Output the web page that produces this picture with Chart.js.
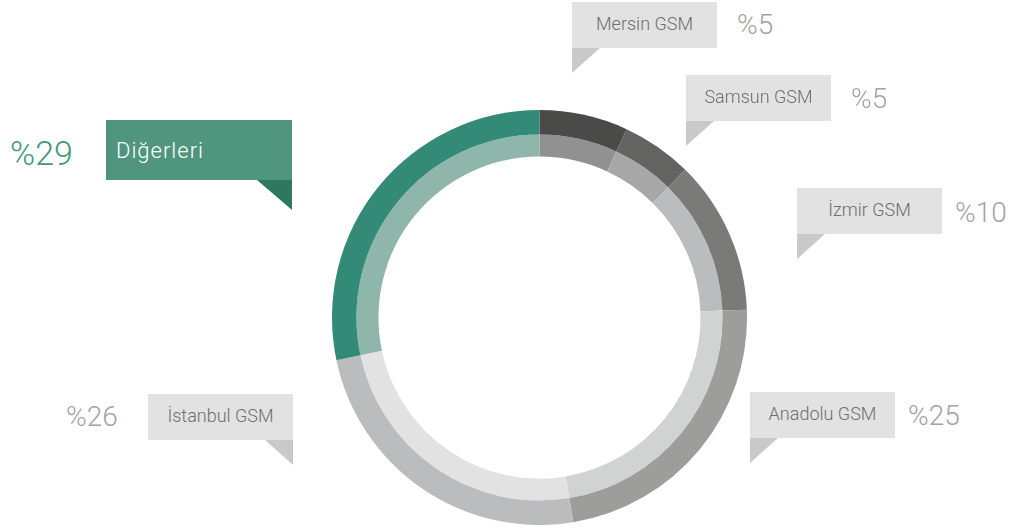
<!DOCTYPE html>
<html>
<head>
<meta charset="utf-8">
<script src="https://cdn.jsdelivr.net/npm/chart.js@4"></script>
<style>
  html, body { margin: 0; padding: 0; background: #fff; }
  body { width: 1013px; height: 531px; position: relative; overflow: hidden; font-family: Roboto, "Noto Sans", sans-serif; }
  #wrap { position: absolute; left: 332px; top: 110px; width: 415px; height: 415px; }
  .box { position: absolute; width: 145px; height: 46px; background: #e2e2e2; color: #6e6e6e;
         font-size: 18px; font-weight: 300; display: flex; align-items: center; justify-content: center; padding-bottom: 3px; box-sizing: border-box; }
  .tail { position: absolute; width: 0; height: 0; }
  .pct { position: absolute; height: 40px; display: flex; align-items: center; font-size: 28px; font-weight: 300; color: #a3a3a3; }
  .green { background: #50967f; color: #fff; font-size: 22px; letter-spacing: 1px; justify-content: flex-start; padding-left: 10px; padding-bottom: 0; }
</style>
</head>
<body>
<div id="wrap"><canvas id="myChart" width="415" height="415"></canvas></div>
<script>
// Chart data
const labels = ['Mersin GSM', 'Samsun GSM', 'İzmir GSM', 'Anadolu GSM', 'İstanbul GSM', 'Diğerleri'];
const shares = [5, 5, 10, 25, 26, 29];                      // printed percentages
const arcValues = [6.9, 5.5, 12.0, 23.0, 24.3, 28.3];        // arc sizes as drawn
const outerColors = ['#4a4a48', '#636362', '#7a7a79', '#9d9e9c', '#bbbcbd', '#338b77'];
const innerColors = ['#909190', '#a7a7a7', '#bbbcbd', '#d1d3d2', '#e2e2e2', '#8fb6aa'];

// callout layout (box left/top, percent position, tail side)
const callouts = [
    {x: 572, y: 2,   px: 737, py: 24,  side: 'left'},
    {x: 686, y: 75,  px: 851, py: 98,  side: 'left'},
    {x: 797, y: 188, px: 955, py: 212, side: 'left'},
    {x: 750, y: 392, px: 908, py: 415, side: 'left'},
    {x: 148, y: 394, px: 66,  py: 416, side: 'right'},
    {x: 106, y: 120, px: 10,  py: 153, side: 'right', big: true}
];

callouts.forEach(function(c, i) {
    const box = document.createElement('div');
    box.className = 'box' + (c.big ? ' green' : '');
    box.textContent = labels[i];
    box.style.left = c.x + 'px';
    box.style.top = c.y + 'px';
    if (c.big) {
        box.style.width = '186px';
        box.style.height = '60px';
    }
    document.body.appendChild(box);

    const w = c.big ? 186 : 145;
    const h = c.big ? 60 : 46;
    const tail = document.createElement('div');
    tail.className = 'tail';
    const tw = c.big ? 35 : 28;
    const th = c.big ? 30 : 25;
    const tc = c.big ? '#2e7862' : '#c8c9c8';
    tail.style.top = (c.y + h) + 'px';
    if (c.side === 'left') {
        tail.style.left = c.x + 'px';
        tail.style.borderTop = th + 'px solid ' + tc;
        tail.style.borderRight = tw + 'px solid transparent';
    } else {
        tail.style.left = (c.x + w - tw) + 'px';
        tail.style.borderTop = th + 'px solid ' + tc;
        tail.style.borderLeft = tw + 'px solid transparent';
    }
    document.body.appendChild(tail);

    const pct = document.createElement('div');
    pct.className = 'pct';
    pct.textContent = '%' + shares[i];
    pct.style.left = c.px + 'px';
    pct.style.top = (c.py - 20) + 'px';
    if (c.big) {
        pct.style.fontSize = '34px';
        pct.style.color = '#44977f';
    }
    document.body.appendChild(pct);
});

const ctx = document.getElementById('myChart');

new Chart(ctx, {
    type: 'doughnut',
    data: {
        labels: labels,
        datasets: [{
            data: arcValues,
            backgroundColor: outerColors,
            borderWidth: 0,
            weight: 24.5
        },
        {
            data: arcValues,
            backgroundColor: innerColors,
            borderWidth: 0,
            weight: 22
        }]
    },
    options: {
        responsive: false,
        animation: false,
        cutout: '77.6%',
        layout: { padding: 0 },
        plugins: {
            legend: { display: false },
            tooltip: { enabled: false }
        }
    }
});
</script>
</body>
</html>
